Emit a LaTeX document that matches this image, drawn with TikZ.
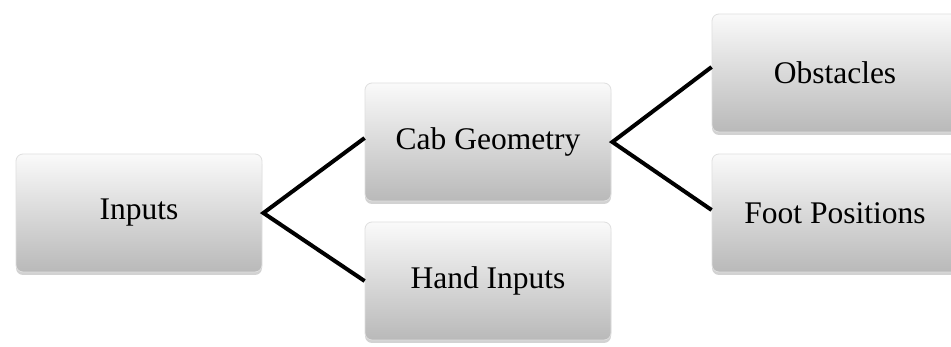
\documentclass[tikz,border=0pt]{standalone}
\usepackage{fontspec}
\setmainfont{Liberation Serif}
\usetikzlibrary{shadows}
\tikzset{
  box/.style={draw=gray!25, line width=0.8pt, rounded corners=7pt, minimum width=246pt, minimum height=118pt,
    top color=gray!4, bottom color=gray!55, inner sep=0pt,
    font=\fontsize{31.5}{36}\selectfont, text=black,
    drop shadow={shadow xshift=0pt, shadow yshift=-3pt, opacity=0.35, fill=gray}},
  conn/.style={line width=4pt, black, line join=miter}
}
\begin{document}
\begin{tikzpicture}[x=1pt,y=-1pt]
\fill[white] (0,0) rectangle (951,347);
\useasboundingbox (0,0) rectangle (951,347);
\clip (0,0) rectangle (951,347);
\node[box] (in) at (139,213) {Inputs};
\node[box] (cab) at (488,142) {Cab Geometry};
\node[box] (hand) at (488,281) {Hand Inputs};
\node[box] (obs) at (835,73) {Obstacles};
\node[box] (foot) at (835,213) {Foot Positions};
\coordinate (v1) at ([xshift=1pt]in.east);
\coordinate (v2) at ([xshift=1pt]cab.east);
\draw[conn] ([yshift=4pt]cab.west) -- (v1) -- (hand.west);
\draw[conn] ([yshift=6pt]obs.west) -- (v2) -- ([yshift=3pt]foot.west);
\end{tikzpicture}
\end{document}
